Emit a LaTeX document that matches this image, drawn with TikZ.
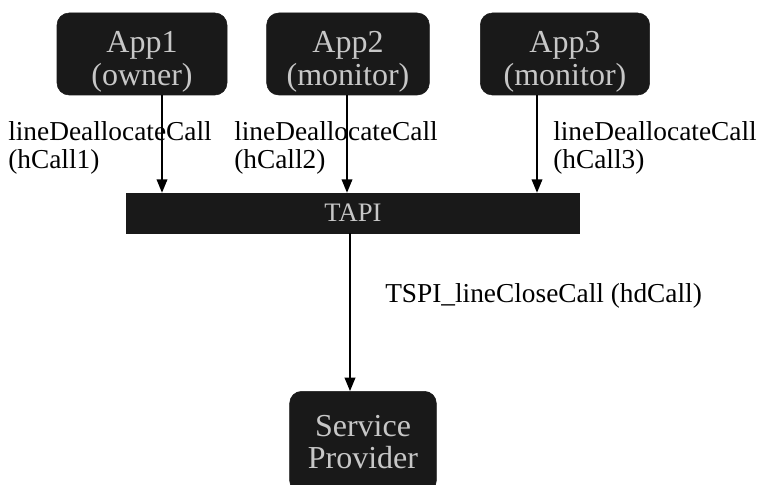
\documentclass[tikz,border=0pt]{standalone}
\usepackage{fontspec}
\setmainfont{Liberation Serif}
\usetikzlibrary{arrows.meta}
\begin{document}
\begin{tikzpicture}[x=0.75pt,y=-0.75pt,
  appbox/.style={draw=black!90,fill=black!90,rounded corners=9pt,inner sep=0pt},
  boxtext/.style={text=black!22,align=center,inner sep=0pt,
    font=\fontsize{24}{24.5}\selectfont},
  lbl/.style={align=left,anchor=north west,font=\fontsize{20.5}{21}\selectfont,inner sep=0pt},
  arr/.style={-{Triangle[length=10pt,width=8pt]},line width=1pt}]
\useasboundingbox (0,0) rectangle (764,485);
% applications
\node[appbox,minimum width=127.5pt,minimum height=61.5pt] (app1) at (142,54) {};
\node[appbox,minimum width=122pt,minimum height=61.5pt] (app2) at (348,54) {};
\node[appbox,minimum width=127pt,minimum height=61.5pt] (app3) at (565,54) {};
\node[boxtext] (t1) at ([yshift=-6pt]app1.center) {App1\\(owner)};
\node[boxtext] (t2) at ([yshift=-6pt]app2.center) {App2\\(monitor)};
\node[boxtext] (t3) at ([yshift=-6pt]app3.center) {App3\\(monitor)};
% TAPI bar
\node[appbox,rounded corners=0pt,minimum width=340pt,minimum height=30pt] (tapi) at (353,213) {};
\node[boxtext,font=\fontsize{20}{21}\selectfont] (tt) at (tapi.center) {TAPI};
% service provider
\node[appbox,minimum width=110pt,minimum height=76pt] (sp) at (363,442) {};
\node[boxtext] (ts) at (sp.center) {Service\\Provider};
% calls from applications down to TAPI
\coordinate (a1) at (162,95);
\coordinate (a2) at (347,95);
\coordinate (a3) at (537,95);
\draw[arr] (a1) -- (a1 |- tapi.north);
\draw[arr] (a2) -- (a2 |- tapi.north);
\draw[arr] (a3) -- (a3 |- tapi.north);
\coordinate (b1) at (350,233);
\draw[arr] (b1) -- (b1 |- sp.north);
% labels
\node[lbl] (l1) at (8,121) {lineDeallocateCall\\(hCall1)};
\node[lbl] (l2) at (234,121) {lineDeallocateCall\\(hCall2)};
\node[lbl] (l3) at (553,121) {lineDeallocateCall\\(hCall3)};
\node[lbl,anchor=west] (l4) at (385,296) {TSPI\_lineCloseCall (hdCall)};
\end{tikzpicture}
\end{document}
